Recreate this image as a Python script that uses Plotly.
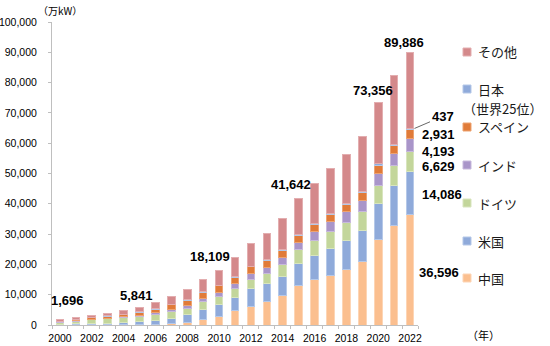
import plotly.graph_objects as go
import numpy as np

years = list(range(2000, 2023))
# 万kW
china = [34, 40, 47, 57, 76, 127, 260, 590, 840, 1760, 2960, 4640, 6160, 7670, 9680, 13100,
         14860, 16440, 18470, 20990, 28210, 32897, 36596]
usa = [238, 386, 442, 602, 657, 871, 1133, 1652, 2479, 3430, 3906, 4568, 5908, 5997, 6423, 7257,
       8129, 8754, 9442, 10358, 11774, 13274, 14086]
germany = [610, 875, 1198, 1438, 1642, 1825, 2047, 2212, 2279, 2569, 2690, 2871, 3098, 3348, 3861, 4458,
           4944, 5558, 5872, 6074, 6218, 6376, 6629]
india = [122, 146, 170, 213, 300, 443, 632, 785, 959, 1093, 1318, 1608, 1730, 2015, 2247, 2509,
         2870, 3285, 3513, 3753, 3856, 4008, 4193]
spain = [221, 340, 488, 619, 832, 991, 1172, 1482, 1655, 1918, 2069, 2117, 2279, 2296, 2298, 2294,
         2299, 2312, 2341, 2558, 2682, 2750, 2931]
japan = [14, 30, 46, 68, 89, 105, 130, 154, 188, 206, 229, 242, 261, 266, 279, 304,
         321, 340, 367, 392, 412, 426, 437]
total = [1696, 2399, 3106, 3894, 4760, 5841, 7390, 9300, 11600, 15100, 18109, 22200, 26800, 30100,
         35100, 41642, 46700, 51700, 56300, 62300, 73356, 82500, 89886]
others = [t - (c + u + g + i + s + j) for t, c, u, g, i, s, j in
          zip(total, china, usa, germany, india, spain, japan)]

names = ["中国", "米国", "ドイツ", "インド", "スペイン", "日本", "その他"]
legend_sub = {"日本": "（世界25位）"}
series = [china, usa, germany, india, spain, japan, others]
colors = ["#FBBF8F", "#8FAADA", "#C3D69B", "#A995C9", "#E07B39", "#8FAADA", "#D4898B"]
lines = ["#FDD5B5", "#B5C8E8", "#D8E5BE", "#C7B9DC", "#EDA371", "#B5C8E8", "#E3AEB0"]

label_years = [2000, 2005, 2010, 2015, 2020, 2022]
label_dx = [0.5, -0.2, -0.55, -0.5, -0.35, -0.4]
label_dy = [17, 9, 11, 12, 10, 8]

font_jp = "Noto Sans CJK JP"
font_num = "Liberation Sans, Arial, Noto Sans CJK JP"

# plot-area geometry in pixels (for placing the hand-made legend)
L, R, T, B = 52, 418, 22, 325
def px(x):
    return (x - L) / (R - L)
def py(y):
    return (B - y) / (B - T)

fig = go.Figure()
for nm, vals, col, lc in zip(names, series, colors, lines):
    fig.add_trace(go.Bar(
        x=years, y=vals, name=nm, marker_color=col,
        marker_line=dict(color=lc, width=1), width=0.48, showlegend=False,
    ))

cum = np.cumsum(np.array(series), axis=0)

annotations = []
shapes = []
# legend (squares + text)
legend_pix = [278, 241, 203, 165, 127, 89, 52]
for nm, col, lc, yy in zip(names, colors, lines, legend_pix):
    shapes.append(dict(type="rect", xref="paper", yref="paper",
                       x0=px(463), x1=px(471), y0=py(yy + 4), y1=py(yy - 4),
                       fillcolor=col, line=dict(color=lc, width=1)))
    annotations.append(dict(x=px(476), y=py(yy), xref="paper", yref="paper", text=nm,
                            showarrow=False, xanchor="left", yanchor="middle",
                            font=dict(family=font_jp, size=13, color="#1a1a1a")))
    if nm in legend_sub:
        annotations.append(dict(x=px(461), y=py(yy + 19), xref="paper", yref="paper",
                                text=legend_sub[nm], showarrow=False, xanchor="left",
                                yanchor="middle",
                                font=dict(family=font_jp, size=13, color="#1a1a1a")))

for yr, dx, dy in zip(label_years, label_dx, label_dy):
    idx = years.index(yr)
    annotations.append(dict(
        x=yr + dx, y=total[idx], xref="x", yref="y", text=f"<b>{total[idx]:,}</b>",
        showarrow=False, yanchor="bottom", yshift=dy - 7,
        font=dict(family=font_num, size=13, color="#000000"),
    ))

# right-side component labels for 2022
last = len(years) - 1
comp_idx = [0, 1, 2, 3, 4]
comp_shift = [-3, -2, -5, -6, 0]
for ci, sh in zip(comp_idx, comp_shift):
    lo = 0 if ci == 0 else cum[ci - 1][last]
    hi = cum[ci][last]
    val = series[ci][last]
    annotations.append(dict(
        x=2022.5, y=(lo + hi) / 2, xref="x", yref="y", text=f"<b>{val:,}</b>",
        showarrow=False, xanchor="left", yshift=sh, xshift=-1 if ci == 0 else 2,
        font=dict(family=font_num, size=13, color="#000000"),
    ))
# Japan with leader line
annotations.append(dict(
    x=2022.28, y=cum[5][last], xref="x", yref="y", text=f"<b>{japan[last]:,}</b>",
    showarrow=True, arrowhead=0, arrowwidth=0.8, arrowcolor="#404040",
    ax=28, ay=-12, standoff=0,
    font=dict(family=font_num, size=13, color="#000000"),
))
annotations.append(dict(
    x=px(36), y=py(11), xref="paper", yref="paper", text="（万kW）", showarrow=False,
    xanchor="left", yanchor="middle",
    font=dict(family=font_jp, size=10, color="#000000"),
))
annotations.append(dict(
    x=px(465), y=py(335), xref="paper", yref="paper", text="（年）", showarrow=False,
    xanchor="left", yanchor="middle",
    font=dict(family=font_jp, size=11, color="#000000"),
))

fig.update_layout(
    width=550, height=346,
    margin=dict(l=L, r=550 - R, t=T, b=346 - B, autoexpand=False),
    paper_bgcolor="white", plot_bgcolor="white",
    barmode="stack", bargap=0.5, showlegend=False,
    annotations=annotations, shapes=shapes,
    xaxis=dict(
        range=[1999.5, 2022.5], tickmode="array",
        tickvals=[y for y in years if y % 2 == 0],
        ticktext=[str(y) for y in years if y % 2 == 0],
        showline=True, linecolor="#BFBFBF", linewidth=1,
        ticks="", showgrid=False, zeroline=False, ticklabelstandoff=3,
        tickfont=dict(family="Liberation Sans, Arial", size=10.5, color="#000000"),
        minor=dict(ticks="outside", tickmode="linear", tick0=1999.5, dtick=1,
                   ticklen=3, tickcolor="#BFBFBF", showgrid=False),
    ),
    yaxis=dict(
        range=[0, 100000], tickvals=list(range(0, 100001, 10000)),
        tickformat=",d",
        showline=True, linecolor="#BFBFBF", linewidth=1,
        ticks="outside", ticklen=3, tickcolor="#BFBFBF",
        showgrid=False, zeroline=False, ticklabelstandoff=9,
        tickfont=dict(family="Liberation Sans, Arial", size=10.5, color="#000000"),
    ),
)

fig.write_html("out.html")
